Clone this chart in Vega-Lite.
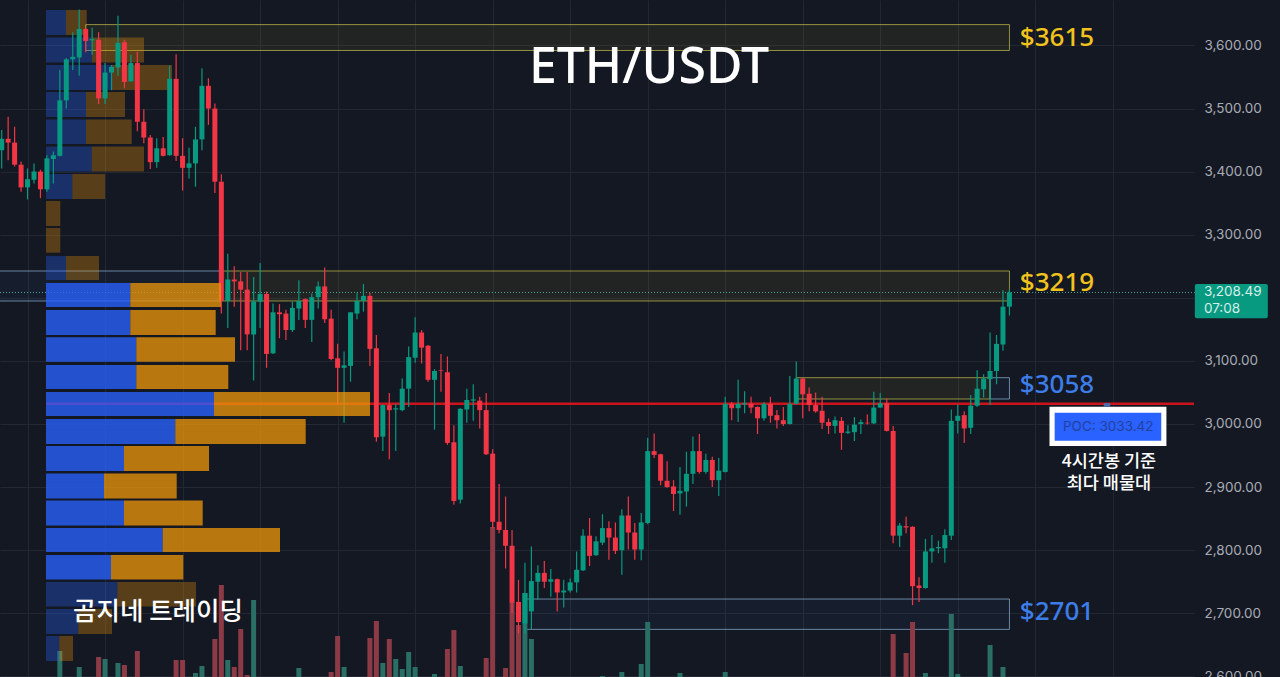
{
"$schema":"https://vega.github.io/schema/vega-lite/v6.json",
"description":"ETH/USDT candles with volume profile, POC and key price zones",
"width":1194,"height":677,
"autosize":{"type":"none"},
"padding":{"left":0,"top":0,"right":86,"bottom":0},
"background":"#141823",
"config":{"view":{"stroke":null}},
"datasets":{
"candles":[
{"i":0,"o":3434,"h":3466,"l":3405,"c":3452},{"i":1,"o":3452,"h":3487,"l":3418,"c":3446},{"i":2,"o":3446,"h":3471,"l":3408,"c":3411},{"i":3,"o":3411,"h":3416,"l":3368,"c":3375},
{"i":4,"o":3375,"h":3405,"l":3356,"c":3388},{"i":5,"o":3387,"h":3413,"l":3381,"c":3400},{"i":6,"o":3400,"h":3403,"l":3358,"c":3372},{"i":7,"o":3372,"h":3426,"l":3368,"c":3421},
{"i":8,"o":3420,"h":3432,"l":3381,"c":3426},{"i":9,"o":3425,"h":3561,"l":3424,"c":3513,"v":26},{"i":10,"o":3513,"h":3580,"l":3500,"c":3578},{"i":11,"o":3578,"h":3621,"l":3561,"c":3582},
{"i":12,"o":3581,"h":3657,"l":3552,"c":3626,"v":10},{"i":13,"o":3626,"h":3627,"l":3589,"c":3607},{"i":14,"o":3608,"h":3628,"l":3585,"c":3610},{"i":15,"o":3609,"h":3621,"l":3507,"c":3516,"v":20},
{"i":16,"o":3516,"h":3572,"l":3507,"c":3557,"v":18},{"i":17,"o":3557,"h":3569,"l":3529,"c":3566},{"i":18,"o":3565,"h":3647,"l":3552,"c":3604,"v":14},{"i":19,"o":3605,"h":3609,"l":3532,"c":3542,"v":12},
{"i":20,"o":3543,"h":3585,"l":3543,"c":3572},{"i":21,"o":3572,"h":3590,"l":3464,"c":3479,"v":26},{"i":22,"o":3479,"h":3499,"l":3445,"c":3454},{"i":23,"o":3454,"h":3458,"l":3404,"c":3415},
{"i":24,"o":3415,"h":3453,"l":3406,"c":3437},{"i":25,"o":3437,"h":3455,"l":3424,"c":3425},{"i":26,"o":3426,"h":3568,"l":3425,"c":3547},{"i":27,"o":3547,"h":3586,"l":3417,"c":3425,"v":17},
{"i":28,"o":3425,"h":3453,"l":3370,"c":3406,"v":17},{"i":29,"o":3406,"h":3438,"l":3389,"c":3413},{"i":30,"o":3413,"h":3471,"l":3376,"c":3451,"v":4},{"i":31,"o":3451,"h":3564,"l":3434,"c":3536,"v":11},
{"i":32,"o":3536,"h":3548,"l":3474,"c":3500},{"i":33,"o":3500,"h":3508,"l":3366,"c":3384,"v":38},{"i":34,"o":3384,"h":3396,"l":3175,"c":3195,"v":92},{"i":35,"o":3195,"h":3270,"l":3152,"c":3229,"v":17},
{"i":36,"o":3229,"h":3250,"l":3186,"c":3226,"v":10},{"i":37,"o":3226,"h":3241,"l":3117,"c":3213,"v":48},{"i":38,"o":3213,"h":3241,"l":3117,"c":3142,"v":2},{"i":39,"o":3142,"h":3233,"l":3069,"c":3194,"v":77},
{"i":40,"o":3194,"h":3255,"l":3152,"c":3206},{"i":41,"o":3206,"h":3210,"l":3089,"c":3111},{"i":42,"o":3112,"h":3191,"l":3111,"c":3177},{"i":43,"o":3177,"h":3190,"l":3136,"c":3174},
{"i":44,"o":3175,"h":3181,"l":3133,"c":3149},{"i":45,"o":3149,"h":3194,"l":3146,"c":3184},{"i":46,"o":3183,"h":3228,"l":3165,"c":3195,"v":9},{"i":47,"o":3198,"h":3199,"l":3152,"c":3165},
{"i":48,"o":3165,"h":3207,"l":3130,"c":3201},{"i":49,"o":3201,"h":3226,"l":3183,"c":3218},{"i":50,"o":3218,"h":3248,"l":3160,"c":3166},{"i":51,"o":3167,"h":3181,"l":3101,"c":3103,"v":5},
{"i":52,"o":3104,"h":3127,"l":3030,"c":3089,"v":41},{"i":53,"o":3089,"h":3115,"l":3002,"c":3093,"v":10},{"i":54,"o":3092,"h":3177,"l":3067,"c":3177},{"i":55,"o":3175,"h":3208,"l":3166,"c":3195},
{"i":56,"o":3195,"h":3222,"l":3178,"c":3203},{"i":57,"o":3203,"h":3208,"l":3092,"c":3119,"v":39},{"i":58,"o":3120,"h":3141,"l":2972,"c":2979,"v":56},{"i":59,"o":2980,"h":3031,"l":2957,"c":3030,"v":14},
{"i":60,"o":3030,"h":3049,"l":2944,"c":3022,"v":38},{"i":61,"o":3023,"h":3032,"l":2957,"c":3025,"v":18},{"i":62,"o":3022,"h":3072,"l":3020,"c":3056,"v":8},{"i":63,"o":3056,"h":3123,"l":3027,"c":3106,"v":25},
{"i":64,"o":3105,"h":3169,"l":3097,"c":3145,"v":10},{"i":65,"o":3145,"h":3149,"l":3096,"c":3121},{"i":66,"o":3124,"h":3125,"l":3067,"c":3070},{"i":67,"o":3070,"h":3087,"l":2991,"c":3084,"v":3},
{"i":68,"o":3085,"h":3111,"l":3051,"c":3084},{"i":69,"o":3082,"h":3107,"l":2967,"c":2970,"v":28},{"i":70,"o":2971,"h":2998,"l":2872,"c":2878,"v":47},{"i":71,"o":2880,"h":3025,"l":2874,"c":3024,"v":11},
{"i":72,"o":3023,"h":3056,"l":3002,"c":3038},{"i":73,"o":3037,"h":3063,"l":3005,"c":3039},{"i":74,"o":3037,"h":3043,"l":2993,"c":3022},{"i":75,"o":3022,"h":3049,"l":2951,"c":2952,"v":19},
{"i":76,"o":2953,"h":2960,"l":2835,"c":2845,"v":150},{"i":77,"o":2845,"h":2905,"l":2827,"c":2832},{"i":78,"o":2832,"h":2885,"l":2771,"c":2807,"v":9},{"i":79,"o":2807,"h":2832,"l":2700,"c":2717,"v":75},
{"i":80,"o":2718,"h":2753,"l":2668,"c":2686,"v":52},{"i":81,"o":2684,"h":2780,"l":2668,"c":2732,"v":84},{"i":82,"o":2703,"h":2806,"l":2675,"c":2751,"v":38},{"i":83,"o":2750,"h":2776,"l":2721,"c":2764},
{"i":84,"o":2764,"h":2783,"l":2740,"c":2750},{"i":85,"o":2750,"h":2770,"l":2726,"c":2754},{"i":86,"o":2754,"h":2755,"l":2703,"c":2733},{"i":87,"o":2733,"h":2753,"l":2709,"c":2736},
{"i":88,"o":2736,"h":2755,"l":2733,"c":2749},{"i":89,"o":2749,"h":2798,"l":2733,"c":2769},{"i":90,"o":2768,"h":2833,"l":2767,"c":2823},{"i":91,"o":2823,"h":2851,"l":2775,"c":2791},
{"i":92,"o":2792,"h":2822,"l":2791,"c":2814},{"i":93,"o":2812,"h":2857,"l":2808,"c":2835,"v":1},{"i":94,"o":2835,"h":2846,"l":2785,"c":2820},{"i":95,"o":2820,"h":2844,"l":2794,"c":2799},
{"i":96,"o":2800,"h":2865,"l":2761,"c":2855,"v":5},{"i":97,"o":2855,"h":2885,"l":2801,"c":2828},{"i":98,"o":2828,"h":2843,"l":2785,"c":2801},{"i":99,"o":2801,"h":2859,"l":2784,"c":2844,"v":13},
{"i":100,"o":2843,"h":2978,"l":2841,"c":2957,"v":55},{"i":101,"o":2957,"h":2985,"l":2946,"c":2951},{"i":102,"o":2952,"h":2953,"l":2903,"c":2910},{"i":103,"o":2910,"h":2941,"l":2899,"c":2900},
{"i":104,"o":2901,"h":2911,"l":2862,"c":2889},{"i":105,"o":2890,"h":2932,"l":2856,"c":2894,"v":4},{"i":106,"o":2893,"h":2956,"l":2869,"c":2921},{"i":107,"o":2921,"h":2980,"l":2905,"c":2957},
{"i":108,"o":2957,"h":2984,"l":2921,"c":2924},{"i":109,"o":2924,"h":2953,"l":2921,"c":2943},{"i":110,"o":2943,"h":2948,"l":2900,"c":2911},{"i":111,"o":2911,"h":2946,"l":2886,"c":2926},
{"i":112,"o":2924,"h":3043,"l":2923,"c":3032,"v":5},{"i":113,"o":3032,"h":3035,"l":3006,"c":3025},{"i":114,"o":3025,"h":3070,"l":3003,"c":3032},{"i":115,"o":3031,"h":3052,"l":3017,"c":3033},
{"i":116,"o":3032,"h":3043,"l":3017,"c":3026},{"i":117,"o":3027,"h":3028,"l":2984,"c":3009},{"i":118,"o":3009,"h":3035,"l":3005,"c":3032},{"i":119,"o":3032,"h":3043,"l":3002,"c":3013},
{"i":120,"o":3014,"h":3022,"l":2993,"c":3006},{"i":121,"o":3006,"h":3027,"l":2997,"c":3000},{"i":122,"o":3000,"h":3076,"l":2999,"c":3032},{"i":123,"o":3032,"h":3099,"l":3031,"c":3072},
{"i":124,"o":3072,"h":3073,"l":3009,"c":3047},{"i":125,"o":3048,"h":3058,"l":3020,"c":3030},{"i":126,"o":3030,"h":3050,"l":3018,"c":3020},{"i":127,"o":3021,"h":3043,"l":2992,"c":3002},
{"i":128,"o":3003,"h":3009,"l":2984,"c":2997},{"i":129,"o":2997,"h":3012,"l":2985,"c":3006},{"i":130,"o":3005,"h":3011,"l":2959,"c":2986},{"i":131,"o":2986,"h":2998,"l":2984,"c":2988},
{"i":132,"o":2987,"h":3011,"l":2973,"c":2999},{"i":133,"o":3000,"h":3007,"l":2984,"c":3003},{"i":134,"o":3002,"h":3015,"l":2999,"c":3001},{"i":135,"o":3001,"h":3051,"l":3000,"c":3026},
{"i":136,"o":3026,"h":3049,"l":3026,"c":3033},{"i":137,"o":3033,"h":3040,"l":2988,"c":2989},{"i":138,"o":2989,"h":2997,"l":2811,"c":2823,"v":43},{"i":139,"o":2823,"h":2843,"l":2805,"c":2839},
{"i":140,"o":2838,"h":2853,"l":2827,"c":2836,"v":24},{"i":141,"o":2837,"h":2838,"l":2713,"c":2743,"v":55},{"i":142,"o":2744,"h":2757,"l":2718,"c":2740},{"i":143,"o":2740,"h":2818,"l":2739,"c":2798,"v":4},
{"i":144,"o":2798,"h":2824,"l":2780,"c":2803},{"i":145,"o":2803,"h":2815,"l":2795,"c":2805},{"i":146,"o":2803,"h":2833,"l":2780,"c":2824},{"i":147,"o":2823,"h":3023,"l":2816,"c":3005,"v":63},
{"i":148,"o":3005,"h":3031,"l":2985,"c":3013,"v":3},{"i":149,"o":3014,"h":3020,"l":2970,"c":2993},{"i":150,"o":2994,"h":3046,"l":2984,"c":3029},{"i":151,"o":3029,"h":3085,"l":3027,"c":3056},
{"i":152,"o":3055,"h":3079,"l":3042,"c":3072},{"i":153,"o":3071,"h":3145,"l":3030,"c":3084,"v":32},{"i":154,"o":3084,"h":3141,"l":3063,"c":3127},{"i":155,"o":3126,"h":3212,"l":3116,"c":3186,"v":10},
{"i":156,"o":3186,"h":3213,"l":3172,"c":3208.49}
],
"profile":[
{"lo":3616.5,"hi":3656.2,"side":"buy","v0":0,"v1":20,"va":false},{"lo":3616.5,"hi":3656.2,"side":"sell","v0":20,"v1":40.7,"va":false},
{"lo":3573,"hi":3612.6,"side":"buy","v0":0,"v1":46,"va":false},{"lo":3573,"hi":3612.6,"side":"sell","v0":46,"v1":98,"va":false},
{"lo":3529.4,"hi":3569,"side":"buy","v0":0,"v1":66,"va":false},{"lo":3529.4,"hi":3569,"side":"sell","v0":66,"v1":126,"va":false},
{"lo":3486.6,"hi":3526.2,"side":"buy","v0":0,"v1":40,"va":false},{"lo":3486.6,"hi":3526.2,"side":"sell","v0":40,"v1":79,"va":false},
{"lo":3443.8,"hi":3482.6,"side":"buy","v0":0,"v1":40,"va":false},{"lo":3443.8,"hi":3482.6,"side":"sell","v0":40,"v1":85.7,"va":false},
{"lo":3400.2,"hi":3439.8,"side":"buy","v0":0,"v1":45.7,"va":false},{"lo":3400.2,"hi":3439.8,"side":"sell","v0":45.7,"v1":98,"va":false},
{"lo":3356.6,"hi":3396.2,"side":"buy","v0":0,"v1":26.3,"va":false},{"lo":3356.6,"hi":3396.2,"side":"sell","v0":26.3,"v1":59,"va":false},
{"lo":3313.8,"hi":3353.4,"side":"sell","v0":0,"v1":14.3,"va":false},
{"lo":3271.5,"hi":3310.6,"side":"sell","v0":0,"v1":14.3,"va":false},
{"lo":3228.2,"hi":3266.2,"side":"buy","v0":0,"v1":20,"va":false},{"lo":3228.2,"hi":3266.2,"side":"sell","v0":20,"v1":53,"va":false},
{"lo":3185.4,"hi":3223.4,"side":"buy","v0":0,"v1":84.3,"va":true},{"lo":3185.4,"hi":3223.4,"side":"sell","v0":84.3,"v1":175,"va":true},
{"lo":3141,"hi":3180.7,"side":"buy","v0":0,"v1":84.3,"va":true},{"lo":3141,"hi":3180.7,"side":"sell","v0":84.3,"v1":169.7,"va":true},
{"lo":3098.7,"hi":3137.4,"side":"buy","v0":0,"v1":90.3,"va":true},{"lo":3098.7,"hi":3137.4,"side":"sell","v0":90.3,"v1":189,"va":true},
{"lo":3055.4,"hi":3093.5,"side":"buy","v0":0,"v1":90.3,"va":true},{"lo":3055.4,"hi":3093.5,"side":"sell","v0":90.3,"v1":182.3,"va":true},
{"lo":3012.7,"hi":3050.7,"side":"buy","v0":0,"v1":168,"va":true},{"lo":3012.7,"hi":3050.7,"side":"sell","v0":168,"v1":324,"va":true},
{"lo":2968.3,"hi":3007.9,"side":"buy","v0":0,"v1":129.3,"va":true},{"lo":2968.3,"hi":3007.9,"side":"sell","v0":129.3,"v1":259.7,"va":true},
{"lo":2925.5,"hi":2965.1,"side":"buy","v0":0,"v1":78,"va":true},{"lo":2925.5,"hi":2965.1,"side":"sell","v0":78,"v1":163,"va":true},
{"lo":2881.9,"hi":2921.5,"side":"buy","v0":0,"v1":58,"va":true},{"lo":2881.9,"hi":2921.5,"side":"sell","v0":58,"v1":130.7,"va":true},
{"lo":2839.1,"hi":2878.7,"side":"buy","v0":0,"v1":78,"va":true},{"lo":2839.1,"hi":2878.7,"side":"sell","v0":78,"v1":156.7,"va":true},
{"lo":2797.1,"hi":2835.1,"side":"buy","v0":0,"v1":116.7,"va":true},{"lo":2797.1,"hi":2835.1,"side":"sell","v0":116.7,"v1":234,"va":true},
{"lo":2753.5,"hi":2792.4,"side":"buy","v0":0,"v1":65,"va":true},{"lo":2753.5,"hi":2792.4,"side":"sell","v0":65,"v1":137.3,"va":true},
{"lo":2710.7,"hi":2749.5,"side":"buy","v0":0,"v1":71.3,"va":false},{"lo":2710.7,"hi":2749.5,"side":"sell","v0":71.3,"v1":150,"va":false},
{"lo":2667.1,"hi":2706.7,"side":"buy","v0":0,"v1":32.3,"va":false},{"lo":2667.1,"hi":2706.7,"side":"sell","v0":32.3,"v1":66,"va":false},
{"lo":2624.3,"hi":2664,"side":"buy","v0":0,"v1":13.3,"va":false},{"lo":2624.3,"hi":2664,"side":"sell","v0":13.3,"v1":27,"va":false}
],
"zones":[
{"zone":"3615","kind":"supply","x0":13,"x1":156,"top":3633,"bottom":3592},
{"zone":"3219 left","kind":"demand","x0":-1,"x1":34,"top":3242.5,"bottom":3195},
{"zone":"3219","kind":"supply","x0":34,"x1":156,"top":3242.5,"bottom":3195},
{"zone":"3058","kind":"supply","x0":123,"x1":153,"top":3073.4,"bottom":3039.6},
{"zone":"3058 right","kind":"demand","x0":153,"x1":156,"top":3073.4,"bottom":3039.6},
{"zone":"2701","kind":"demand","x0":81,"x1":156,"top":2722.6,"bottom":2674.5}
]
},
"resolve":{"scale":{"x":"independent","y":"independent"}},
"layer":[
{"data":{"name":"zones"},
 "mark":{"type":"rect","fillOpacity":0.06,"strokeOpacity":0.7,"strokeWidth":1},
 "encoding":{
  "x":{"field":"x0","type":"quantitative","scale":{"domain":[-0.263,184.57],"nice":false,"zero":false,"padding":0},
   "axis":{"title":null,"orient":"bottom","labels":false,"ticks":false,"domain":false,"grid":true,"gridColor":"#232733","gridWidth":1,"values":[4,16,28,40,52,64,76,88,100,112,124,136,148,160,172]}},
  "x2":{"field":"x1"},
  "y":{"field":"top","type":"quantitative","scale":{"domain":[2599,3672],"nice":false,"zero":false},
   "axis":{"title":null,"orient":"right","values":[2600,2700,2800,2900,3000,3100,3200,3300,3400,3500,3600],"labelExpr":"datum.value==3200?'':format(datum.value,',.2f')","ticks":false,"domain":false,"grid":true,"gridColor":"#232733","gridWidth":1,"labelColor":"#a9acb5","labelFont":"Inter","labelFontSize":13.5,"labelPadding":10}},
  "y2":{"field":"bottom"},
  "fill":{"field":"kind","type":"nominal","scale":{"domain":["supply","demand"],"range":["#fbe632","#3c8cdc"]},"legend":null},
  "stroke":{"field":"kind","type":"nominal","scale":{"domain":["supply","demand"],"range":["#c8c24a","#8fb3d9"]},"legend":null}}},
{"data":{"name":"candles"},
 "transform":[{"filter":"datum.v>0"}],
 "mark":{"type":"bar","size":5,"orient":"vertical"},
 "encoding":{
  "x":{"field":"i","type":"quantitative","scale":{"domain":[-0.263,184.57],"nice":false,"zero":false,"padding":0},"axis":null},
  "y":{"field":"v","type":"quantitative","scale":{"domain":[0,677],"nice":false},"axis":null},
  "color":{"condition":{"test":"datum.c>=datum.o","value":"#2a6f66"},"value":"#8c3b46"}}},
{"data":{"name":"profile"},
 "transform":[{"filter":"!datum.va"}],
 "mark":{"type":"rect","opacity":0.32},
 "encoding":{
  "x":{"field":"v0","type":"quantitative","scale":{"domain":[-46,1148],"nice":false,"zero":false},"axis":null},
  "x2":{"field":"v1"},
  "y":{"field":"lo","type":"quantitative","scale":{"domain":[2599,3672],"nice":false,"zero":false},"axis":null},
  "y2":{"field":"hi"},
  "color":{"field":"side","type":"nominal","scale":{"domain":["buy","sell"],"range":["#2962ff","#e8930a"]},"legend":null}}},
{"layer":[
 {"data":{"values":[{"level":"last","p":3208.49,"i0":-0.263,"i1":184.7}]},
  "mark":{"type":"rule","stroke":"#4ca89a","strokeWidth":1,"strokeDash":[1,2]},
  "encoding":{
   "x":{"field":"i0","type":"quantitative","scale":{"domain":[-0.263,184.57],"nice":false,"zero":false,"padding":0},"axis":null},
   "x2":{"field":"i1"},
   "y":{"field":"p","type":"quantitative","scale":{"domain":[2599,3672],"nice":false,"zero":false},"axis":null}}},
 {"data":{"values":[{"level":"POC","p":3032,"i0":6.86,"i1":184.57}]},
  "mark":{"type":"rule","stroke":"#cc141c","strokeWidth":2.5},
  "encoding":{"x":{"field":"i0","type":"quantitative","axis":null},"x2":{"field":"i1"},"y":{"field":"p","type":"quantitative","axis":null}}},
 {"data":{"name":"candles"},
  "mark":{"type":"rule","strokeWidth":1.2},
  "encoding":{
   "x":{"field":"i","type":"quantitative","axis":null},
   "y":{"field":"h","type":"quantitative","axis":null},"y2":{"field":"l"},
   "color":{"condition":{"test":"datum.c>=datum.o","value":"#089981"},"value":"#f23645"}}},
 {"data":{"name":"candles"},
  "mark":{"type":"bar","size":5,"orient":"vertical"},
  "encoding":{
   "x":{"field":"i","type":"quantitative","axis":null},
   "y":{"field":"o","type":"quantitative","axis":null},"y2":{"field":"c"},
   "color":{"condition":{"test":"datum.c>=datum.o","value":"#089981"},"value":"#f23645"}}},
 {"data":{"values":[{"i":184.7,"i2":196,"top":3222,"bottom":3167.5}]},
  "mark":{"type":"rect","color":"#089981","cornerRadius":2},
  "encoding":{"x":{"field":"i","type":"quantitative","axis":null},"x2":{"field":"i2"},"y":{"field":"top","type":"quantitative","axis":null},"y2":{"field":"bottom"}}},
 {"data":{"values":[{"label":"3,208.49","i":186.1,"p":3209},{"label":"07:08","i":186.1,"p":3183}]},
  "mark":{"type":"text","align":"left","baseline":"middle","font":"Inter","fontSize":13.5,"color":"#d6eee9"},
  "encoding":{"x":{"field":"i","type":"quantitative","axis":null},"y":{"field":"p","type":"quantitative","axis":null},"text":{"field":"label"}}},
 {"data":{"values":[{"i":162.2,"i2":180.3,"top":3027.4,"bottom":2965}]},
  "mark":{"type":"rect","color":"#ffffff"},
  "encoding":{"x":{"field":"i","type":"quantitative","axis":null},"x2":{"field":"i2"},"y":{"field":"top","type":"quantitative","axis":null},"y2":{"field":"bottom"}}},
 {"data":{"values":[{"i":163,"i2":179.5,"top":3017.9,"bottom":2973.5}]},
  "mark":{"type":"rect","color":"#2962ff"},
  "encoding":{"x":{"field":"i","type":"quantitative","axis":null},"x2":{"field":"i2"},"y":{"field":"top","type":"quantitative","axis":null},"y2":{"field":"bottom"}}},
 {"data":{"values":[{"i":170.6,"i2":171.6,"top":3033,"bottom":3027.4}]},
  "mark":{"type":"rect","color":"#4a6fb0"},
  "encoding":{"x":{"field":"i","type":"quantitative","axis":null},"x2":{"field":"i2"},"y":{"field":"top","type":"quantitative","axis":null},"y2":{"field":"bottom"}}},
 {"data":{"values":[{"label":"POC: 3033.42","i":171.3,"p":2995}]},
  "mark":{"type":"text","align":"center","baseline":"middle","font":"Inter","fontSize":13.5,"color":"#2440a0"},
  "encoding":{"x":{"field":"i","type":"quantitative","axis":null},"y":{"field":"p","type":"quantitative","axis":null},"text":{"field":"label"}}},
 {"data":{"values":[{"label":"4시간봉 기준","i":171.4,"p":2939},{"label":"최다 매물대","i":171.4,"p":2905}]},
  "mark":{"type":"text","align":"center","baseline":"middle","font":"Noto Sans CJK KR","fontSize":17.5,"fontWeight":500,"color":"#ffffff"},
  "encoding":{"x":{"field":"i","type":"quantitative","axis":null},"y":{"field":"p","type":"quantitative","axis":null},"text":{"field":"label"}}},
 {"data":{"values":[{"label":"곰지네 트레이딩","i":24.2,"p":2702}]},
  "mark":{"type":"text","align":"center","baseline":"middle","font":"Noto Sans CJK KR","fontSize":25.5,"fontWeight":500,"color":"#ffffff"},
  "encoding":{"x":{"field":"i","type":"quantitative","axis":null},"y":{"field":"p","type":"quantitative","axis":null},"text":{"field":"label"}}},
 {"data":{"values":[{"label":"ETH/USDT","i":100.2,"p":3564}]},
  "mark":{"type":"text","align":"center","baseline":"middle","font":"Noto Sans","fontSize":50,"fontWeight":500,"color":"#ffffff"},
  "encoding":{"x":{"field":"i","type":"quantitative","axis":null},"y":{"field":"p","type":"quantitative","axis":null},"text":{"field":"label"}}},
 {"data":{"values":[{"label":"$3615","i":157.6,"p":3612},{"label":"$3219","i":157.6,"p":3223}]},
  "mark":{"type":"text","align":"left","baseline":"middle","font":"Noto Sans","fontSize":26,"fontWeight":500,"color":"#f2c31c"},
  "encoding":{"x":{"field":"i","type":"quantitative","axis":null},"y":{"field":"p","type":"quantitative","axis":null},"text":{"field":"label"}}},
 {"data":{"values":[{"label":"$3058","i":157.6,"p":3062},{"label":"$2701","i":157.6,"p":2702}]},
  "mark":{"type":"text","align":"left","baseline":"middle","font":"Noto Sans","fontSize":26,"fontWeight":500,"color":"#3d7de8"},
  "encoding":{"x":{"field":"i","type":"quantitative","axis":null},"y":{"field":"p","type":"quantitative","axis":null},"text":{"field":"label"}}}
]},
{"data":{"name":"profile"},
 "transform":[{"filter":"datum.va"}],
 "mark":{"type":"rect","opacity":0.78},
 "encoding":{
  "x":{"field":"v0","type":"quantitative","scale":{"domain":[-46,1148],"nice":false,"zero":false},"axis":null},
  "x2":{"field":"v1"},
  "y":{"field":"lo","type":"quantitative","scale":{"domain":[2599,3672],"nice":false,"zero":false},"axis":null},
  "y2":{"field":"hi"},
  "color":{"field":"side","type":"nominal","scale":{"domain":["buy","sell"],"range":["#2962ff","#e8930a"]},"legend":null}}}
]
}
